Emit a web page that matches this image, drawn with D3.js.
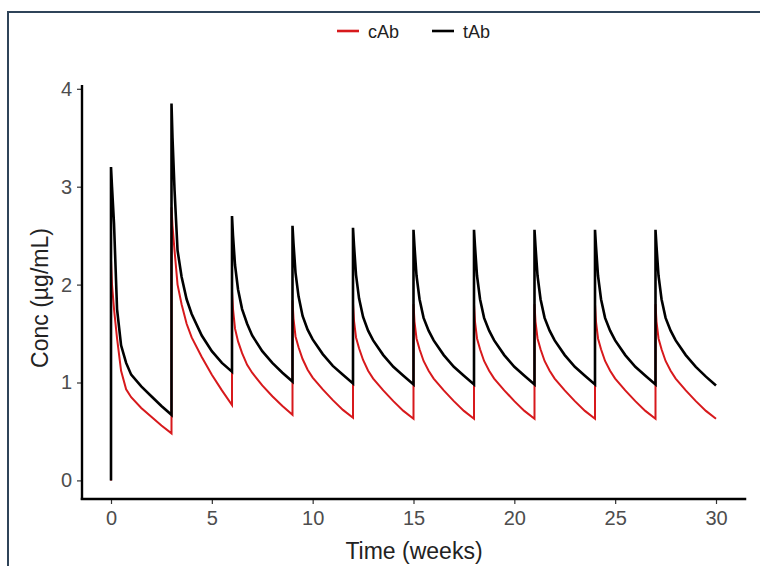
<!DOCTYPE html>
<html>
<head>
<meta charset="utf-8">
<script src="https://cdn.jsdelivr.net/npm/d3@7"></script>
<style>
  body { margin: 0; background: #fff; }
  svg { display: block; font-family: "Liberation Sans", Arial, sans-serif; }
</style>
</head>
<body>
<svg id="chart" width="760" height="566"></svg>
<script>
// dosing every 3 weeks, sampling offsets inside each cycle (weeks)
var doseWeeks = [0, 3, 6, 9, 12, 15, 18, 21, 24, 27];
var offsets = [0, 0.05, 0.15, 0.3, 0.5, 0.75, 1.0, 1.5, 2.0, 2.5, 3.0];

// tAb concentration per cycle (ug/mL), one row per dose
var tAb = [
    [3.20, 3.00, 2.62, 1.75, 1.38, 1.20, 1.08, 0.96, 0.86, 0.76, 0.67],
    [3.85, 3.50, 2.97, 2.35, 2.08, 1.85, 1.70, 1.48, 1.32, 1.20, 1.11],
    [2.70, 2.50, 2.20, 1.95, 1.75, 1.60, 1.48, 1.32, 1.20, 1.10, 1.01],
    [2.60, 2.42, 2.12, 1.88, 1.68, 1.54, 1.44, 1.29, 1.17, 1.08, 0.99],
    [2.58, 2.40, 2.10, 1.86, 1.67, 1.53, 1.43, 1.28, 1.16, 1.07, 0.98],
    [2.56, 2.39, 2.09, 1.85, 1.66, 1.53, 1.43, 1.28, 1.16, 1.07, 0.98],
    [2.56, 2.39, 2.09, 1.85, 1.66, 1.53, 1.43, 1.28, 1.16, 1.07, 0.98],
    [2.56, 2.39, 2.09, 1.85, 1.66, 1.53, 1.43, 1.28, 1.16, 1.07, 0.98],
    [2.56, 2.39, 2.09, 1.85, 1.66, 1.53, 1.43, 1.28, 1.16, 1.07, 0.98],
    [2.56, 2.39, 2.09, 1.85, 1.66, 1.53, 1.43, 1.28, 1.16, 1.06, 0.97]
];

// cAb concentration per cycle (ug/mL)
var cAb = [
    [2.25, 2.00, 1.75, 1.45, 1.12, 0.93, 0.85, 0.74, 0.65, 0.56, 0.48],
    [2.79, 2.60, 2.35, 2.00, 1.80, 1.60, 1.46, 1.26, 1.08, 0.92, 0.77],
    [1.93, 1.75, 1.55, 1.42, 1.30, 1.18, 1.10, 0.97, 0.86, 0.76, 0.67],
    [1.84, 1.65, 1.47, 1.36, 1.24, 1.13, 1.05, 0.93, 0.82, 0.72, 0.64],
    [1.81, 1.63, 1.46, 1.35, 1.23, 1.12, 1.04, 0.92, 0.81, 0.71, 0.63],
    [1.80, 1.62, 1.45, 1.34, 1.22, 1.12, 1.04, 0.92, 0.81, 0.71, 0.63],
    [1.80, 1.62, 1.45, 1.34, 1.22, 1.12, 1.04, 0.92, 0.81, 0.71, 0.63],
    [1.80, 1.62, 1.45, 1.34, 1.22, 1.12, 1.04, 0.92, 0.81, 0.71, 0.63],
    [1.80, 1.62, 1.45, 1.34, 1.22, 1.12, 1.04, 0.92, 0.81, 0.71, 0.63],
    [1.80, 1.62, 1.45, 1.34, 1.22, 1.12, 1.04, 0.92, 0.81, 0.71, 0.63]
];

var xTicks = [0, 5, 10, 15, 20, 25, 30];
var yTicks = [0, 1, 2, 3, 4];

var series = [
    { name: 'cAb', rows: cAb, color: '#d7191c', width: 2 },
    { name: 'tAb', rows: tAb, color: '#000000', width: 2.6 }
];

function toPoints(rows) {
    // pre-dose value at t = 0, then each cycle
    var pts = [[0, 0]];
    rows.forEach(function(row, i) {
        row.forEach(function(v, j) {
            pts.push([doseWeeks[i] + offsets[j], v]);
        });
    });
    return pts;
}

var svg = d3.select('#chart');

// outer frame of the screenshot
svg.append('path')
    .attr('d', 'M8,570 V12 H764')
    .attr('fill', 'none')
    .attr('stroke', '#2f4459')
    .attr('stroke-width', 2);

var x = d3.scaleLinear().domain([0, 30]).range([111, 716]),
    y = d3.scaleLinear().domain([0, 4]).range([480.4, 88.8]);

var xAxis = svg.append('g')
    .attr('transform', 'translate(0,499)')
    .call(d3.axisBottom(x).tickValues(xTicks).tickSize(5).tickSizeOuter(0).tickPadding(7));

var yAxis = svg.append('g')
    .attr('transform', 'translate(82,0)')
    .call(d3.axisLeft(y).tickValues(yTicks).tickFormat(d3.format('d'))
        .tickSize(5).tickSizeOuter(0).tickPadding(5));

[xAxis, yAxis].forEach(function(a) {
    a.select('.domain').remove();
    a.selectAll('.tick line').attr('stroke', '#333').attr('stroke-width', 1.2);
    a.selectAll('.tick text')
        .attr('fill', '#4d4d4d')
        .style('font-size', '20px')
        .style('font-family', '"Liberation Sans", Arial, sans-serif');
});

// axis lines (theme_classic style)
svg.append('line')
    .attr('x1', x(-1.5)).attr('x2', x(31.5))
    .attr('y1', 499).attr('y2', 499)
    .attr('stroke', '#000').attr('stroke-width', 2.4);
svg.append('line')
    .attr('x1', 82).attr('x2', 82)
    .attr('y1', 500).attr('y2', y(4.04))
    .attr('stroke', '#000').attr('stroke-width', 2.4);

var line = d3.line()
    .x(function(d) { return x(d[0]); })
    .y(function(d) { return y(d[1]); });

svg.append('g').selectAll('path')
    .data(series)
  .enter().append('path')
    .attr('d', function(d) { return line(toPoints(d.rows)); })
    .attr('fill', 'none')
    .attr('stroke', function(d) { return d.color; })
    .attr('stroke-width', function(d) { return d.width; })
    .attr('stroke-linejoin', 'miter');

// axis titles
svg.append('text')
    .attr('x', 414).attr('y', 559)
    .attr('text-anchor', 'middle')
    .attr('fill', '#222')
    .style('font-size', '23px')
    .text('Time (weeks)');

svg.append('text')
    .attr('transform', 'translate(48,298) rotate(-90)')
    .attr('text-anchor', 'middle')
    .attr('fill', '#222')
    .style('font-size', '23px')
    .text('Conc (\u00b5g/mL)');

// legend
var legend = svg.append('g').attr('transform', 'translate(337,31)');
var items = legend.selectAll('g')
    .data(series)
  .enter().append('g')
    .attr('transform', function(d, i) { return 'translate(' + (i * 95) + ',0)'; });

items.append('line')
    .attr('x1', 0).attr('x2', 22)
    .attr('stroke', function(d) { return d.color; })
    .attr('stroke-width', 2.6);

items.append('text')
    .attr('x', 31).attr('y', 6.5)
    .attr('fill', '#222')
    .style('font-size', '18px')
    .text(function(d) { return d.name; });
</script>
</body>
</html>
